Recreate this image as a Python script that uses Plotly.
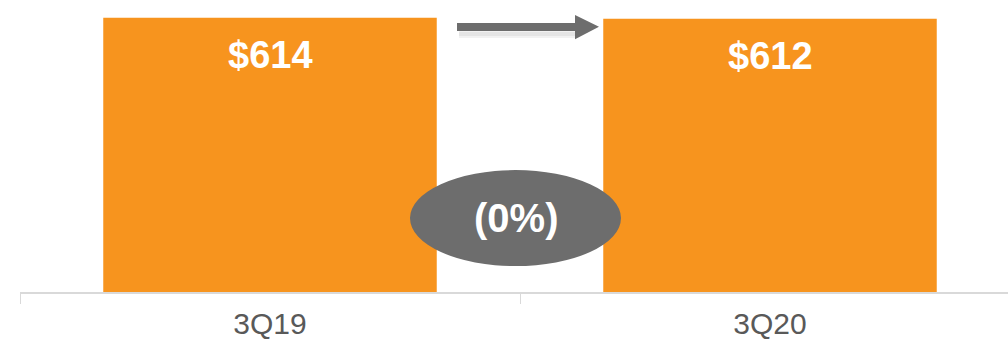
import plotly.graph_objects as go

categories = ["3Q19", "3Q20"]
values = [614, 612]
value_labels = ["$614", "$612"]

BAR_COLOR = "#F7941E"
GRAY = "#6D6D6D"
FONT = "Liberation Sans, Arial, sans-serif"

change = (values[1] - values[0]) / values[0] * 100
change_label = f"({abs(change):.0f}%)" if change < 0 else f"{change:.0f}%"

fig = go.Figure()
fig.add_trace(go.Bar(
    x=categories, y=values, marker=dict(color=BAR_COLOR, line=dict(width=0)),
    width=0.667, hoverinfo="skip",
))

for c, v, lab in zip(categories, values, value_labels):
    fig.add_annotation(x=c, y=v, text=f"<b>{lab}</b>", showarrow=False,
                       yanchor="middle", yshift=-37,
                       font=dict(family=FONT, size=38, color="white"))

# ellipse with change
fig.add_shape(type="circle", xref="x", yref="y", x0=0.28, x1=0.702, y0=58, y1=273,
              fillcolor=GRAY, line=dict(width=0), layer="above")
fig.add_annotation(x=0.491, y=165.5, xref="x", yref="y", text=f"<b>{change_label}</b>",
                   showarrow=False, font=dict(family=FONT, size=40, color="white"))

# arrow (soft shadow + shaft + head)
for dy, op in [(0.0, 0.05), (0.007, 0.05)]:
    fig.add_shape(type="path", xref="x", yref="paper",
                  path=(f"M 0.378 {0.897 - dy} L 0.612 {0.897 - dy} L 0.612 {0.877 - dy} "
                        f"L 0.378 {0.877 - dy} Z"),
                  fillcolor=f"rgba(0,0,0,{op})", line=dict(width=0), layer="above")
fig.add_shape(type="path", xref="x", yref="paper",
              path="M 0.374 0.921 L 0.61 0.921 L 0.61 0.949 L 0.658 0.908 L 0.61 0.866 L 0.61 0.894 L 0.374 0.894 Z",
              fillcolor=GRAY, line=dict(width=0), layer="above")

fig.update_layout(
    width=1008, height=342,
    margin=dict(l=20, r=0, t=0, b=50),
    paper_bgcolor="white", plot_bgcolor="white",
    showlegend=False,
    xaxis=dict(type="category", range=[-0.5, 1.476], tickson="boundaries",
               ticks="outside", ticklen=10, tickcolor="#D9D9D9", tickwidth=1,
               showline=True, linecolor="#D9D9D9", linewidth=1.5,
               showgrid=False, zeroline=False, ticklabelstandoff=4, automargin=False,
               tickfont=dict(family=FONT, size=30, color="#595959")),
    yaxis=dict(range=[0, 654], visible=False, showgrid=False, zeroline=False,
               automargin=False),
)

fig.write_html("out.html")
